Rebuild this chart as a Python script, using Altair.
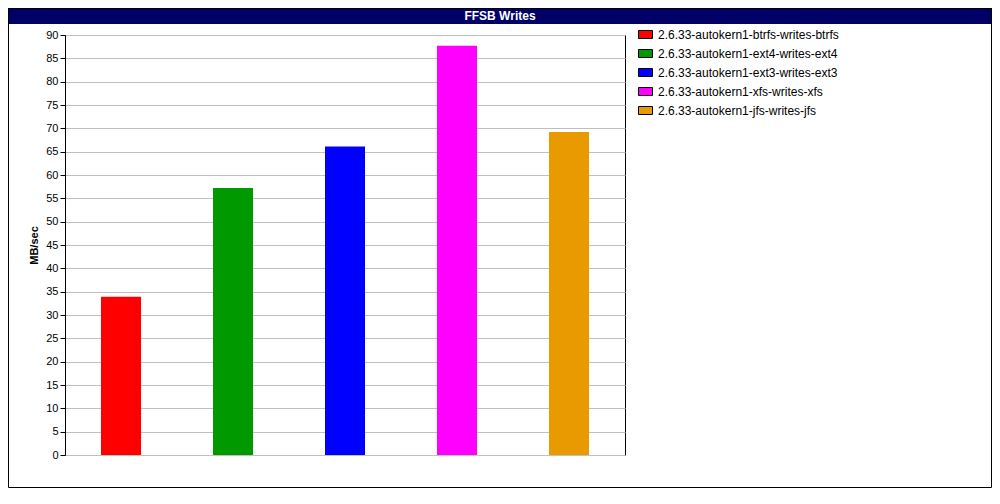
import altair as alt
import pandas as pd

names = [
    "2.6.33-autokern1-btrfs-writes-btrfs",
    "2.6.33-autokern1-ext4-writes-ext4",
    "2.6.33-autokern1-ext3-writes-ext3",
    "2.6.33-autokern1-xfs-writes-xfs",
    "2.6.33-autokern1-jfs-writes-jfs",
]
values = [33.9, 57.2, 66.1, 87.7, 69.2]
colors = ["#ff0000", "#009900", "#0000ff", "#ff00ff", "#e89a00"]
title_text = ["FFSB Writes"]
y_title = "MB/sec"

df = pd.DataFrame({"name": names, "value": values})
tdf = pd.DataFrame({"t": title_text})

FONT = "Liberation Sans"

bars = alt.Chart(df).mark_bar().encode(
    x=alt.X("name:N", sort=names, axis=None,
            scale=alt.Scale(paddingInner=72 / 112, paddingOuter=36 / 112)),
    y=alt.Y("value:Q", title=y_title,
            scale=alt.Scale(domain=[0, 90], nice=False),
            axis=alt.Axis(values=list(range(0, 91, 5)), tickCount=19)),
    color=alt.Color("name:N", scale=alt.Scale(domain=names, range=colors),
                    legend=alt.Legend(
                        title=None, orient="none", legendX=573, legendY=-8,
                        padding=0, symbolType="M-1,-0.57L1,-0.57L1,0.57L-1,0.57Z",
                        symbolSize=196, symbolStrokeColor="black",
                        symbolStrokeWidth=1, symbolOpacity=1,
                        labelFont=FONT, labelFontSize=12, labelColor="black",
                        labelOffset=5, rowPadding=5, labelLimit=400,
                        labelBaseline="middle")),
)

bar_bg = alt.Chart(tdf).mark_rect(color="#000066").encode(
    x=alt.value(-57), x2=alt.value(927), y=alt.value(-27), y2=alt.value(-11)
)
title = alt.Chart(tdf).mark_text(
    color="white", font=FONT, fontSize=12, fontWeight="bold", baseline="middle"
).encode(x=alt.value(435), y=alt.value(-19), text="t:N")
border = alt.Chart(tdf).mark_rect(fill=None, stroke="black", strokeWidth=1).encode(
    x=alt.value(-56.5), x2=alt.value(926.5), y=alt.value(-26.5), y2=alt.value(452.5)
)

chart = alt.layer(bar_bg, border, bars, title).properties(
    width=560, height=420,
    autosize=alt.AutoSizeParams(type="none"),
    padding={"left": 57, "top": 27, "right": 367, "bottom": 33},
    background="white",
).configure_view(stroke="black", strokeWidth=1).configure_axisY(
    labelFont=FONT, labelFontSize=11, labelColor="black", labelPadding=2,
    tickColor="black", tickSize=5, domainColor="black",
    gridColor="#c0c0c0", gridWidth=1,
    titleFont=FONT, titleFontSize=11, titleFontWeight="bold", titleColor="black",
    titlePadding=6,
)

chart.save("out.html", embed_options={"renderer": "svg", "actions": False})
